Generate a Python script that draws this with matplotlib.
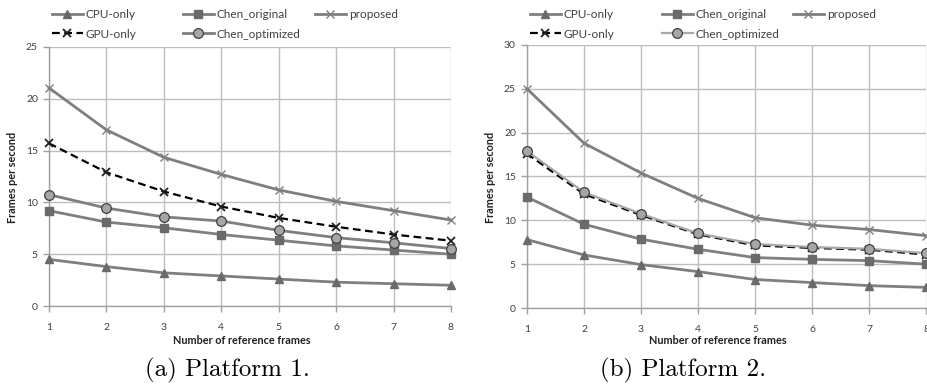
import matplotlib
matplotlib.use('Agg')
import matplotlib.pyplot as plt
from matplotlib.lines import Line2D
import numpy as np

frames = [1, 2, 3, 4, 5, 6, 7, 8]

# Platform 1
p1_cpu = [4.5, 3.8, 3.2, 2.9, 2.6, 2.3, 2.15, 2.0]
p1_gpu = [15.7, 12.9, 11.05, 9.6, 8.5, 7.65, 6.9, 6.3]
p1_chen_orig = [9.2, 8.1, 7.55, 6.9, 6.35, 5.8, 5.4, 5.0]
p1_chen_opt = [10.75, 9.45, 8.6, 8.2, 7.3, 6.6, 6.1, 5.55]
p1_proposed = [21.05, 17.0, 14.35, 12.7, 11.2, 10.1, 9.2, 8.3]

# Platform 2
p2_cpu = [7.8, 6.05, 4.95, 4.15, 3.25, 2.9, 2.55, 2.35]
p2_gpu = [17.6, 13.0, 10.6, 8.4, 7.15, 6.85, 6.65, 6.1]
p2_chen_orig = [12.65, 9.55, 7.85, 6.7, 5.75, 5.55, 5.4, 5.0]
p2_chen_opt = [17.9, 13.2, 10.75, 8.5, 7.3, 6.95, 6.75, 6.25]
p2_proposed = [25.0, 18.8, 15.4, 12.5, 10.3, 9.45, 8.95, 8.25]

labels = ['CPU-only', 'GPU-only', 'Chen_original', 'Chen_optimized', 'proposed']
captions = ['(a) Platform 1.', '(b) Platform 2.']

LINE = '#7f7f7f'
MARK = '#6a6a6a'
GRID = '#bdbdbd'
TXT = '#404040'
FONT = 'Lato'

W, H = 927, 388


def styles(light_opt):
	return [
		dict(color=LINE, marker='^', ms=6, mfc=MARK, mec=MARK, lw=2),
		dict(color='black', ls=(0, (3.5, 2)), marker='x', ms=6, mew=1.3, mec='#202020', lw=1.6),
		dict(color=LINE, marker='s', ms=6, mfc=MARK, mec=MARK, lw=2),
		dict(color='#a8a8a8' if light_opt else LINE, marker='o', ms=7, mfc='#a6a6a6', mec='#404040', mew=0.9, lw=2 if not light_opt else 1.6),
		dict(color=LINE, marker='x', ms=6, mew=1.0, mec='#808080', lw=2),
	]


def panel(fig, rect, series, ymax, light_opt):
	ax = fig.add_axes(rect)
	st = styles(light_opt)
	for i, ys in enumerate(series):
		ax.plot(frames, ys, clip_on=False, zorder=3 + i, **st[i])
	ax.set_xlim(1, 8)
	ax.set_ylim(0, ymax)
	ax.set_xticks(frames)
	ax.set_yticks(np.arange(0, ymax + 1, 5))
	ax.grid(True, color=GRID, lw=1.0)
	ax.set_axisbelow(True)
	for s in ['top', 'right']:
		ax.spines[s].set_visible(False)
	for s in ['left', 'bottom']:
		ax.spines[s].set_color('#a0a0a0')
		ax.spines[s].set_linewidth(1.0)
	ax.tick_params(colors='#a0a0a0', labelcolor=TXT, labelsize=7.5, length=4, width=1.0)
	ax.tick_params(axis='x', pad=8)
	ax.tick_params(axis='y', pad=4)
	for t in ax.get_xticklabels() + ax.get_yticklabels():
		t.set_fontfamily(FONT)
	return ax, st


def legend(fig, st, xs, y0):
	# three columns like Excel: [CPU, GPU], [Chen_orig, Chen_opt], [proposed]
	cols = [[0, 1], [2, 3], [4]]
	for c, idx in enumerate(cols):
		handles = [Line2D([], [], **st[i]) for i in idx]
		fig.legend(handles, [labels[i] for i in idx], loc='upper left',
			bbox_to_anchor=(xs[c] / W, 1 - y0 / H), frameon=False,
			handlelength=2.6, handletextpad=0.25, labelspacing=0.72,
			borderpad=0, borderaxespad=0, prop={'family': FONT, 'size': 8.5},
			labelcolor=TXT)


fig = plt.figure(figsize=(W / 100, H / 100), dpi=100)

ax1, st1 = panel(fig, [49 / W, 1 - 306 / H, 402 / W, 259 / H],
	[p1_cpu, p1_gpu, p1_chen_orig, p1_chen_opt, p1_proposed], 25, False)
ax2, st2 = panel(fig, [527 / W, 1 - 308 / H, 399 / W, 263 / H],
	[p2_cpu, p2_gpu, p2_chen_orig, p2_chen_opt, p2_proposed], 30, True)

legend(fig, st1, [52, 183, 315], 9)
legend(fig, st2, [530, 662, 793], 9)

for cx in [242, 718]:
	fig.text(cx / W, 1 - 340 / H, 'Number of reference frames', ha='center', va='center',
		fontfamily=FONT, fontweight='bold', fontsize=7.8, color='#202020')
for lx in [13, 490]:
	fig.text(lx / W, 1 - 177 / H, 'Frames per second', rotation=90, ha='center', va='center',
		fontfamily=FONT, fontweight='bold', fontsize=7.8, color='#202020')

fig.text(227 / W, 1 - 370 / H, captions[0], ha='center', va='center', fontfamily='cmr10', fontsize=18)
fig.text(683 / W, 1 - 370 / H, captions[1], ha='center', va='center', fontfamily='cmr10', fontsize=18)

fig.savefig('out.png', dpi=100)
